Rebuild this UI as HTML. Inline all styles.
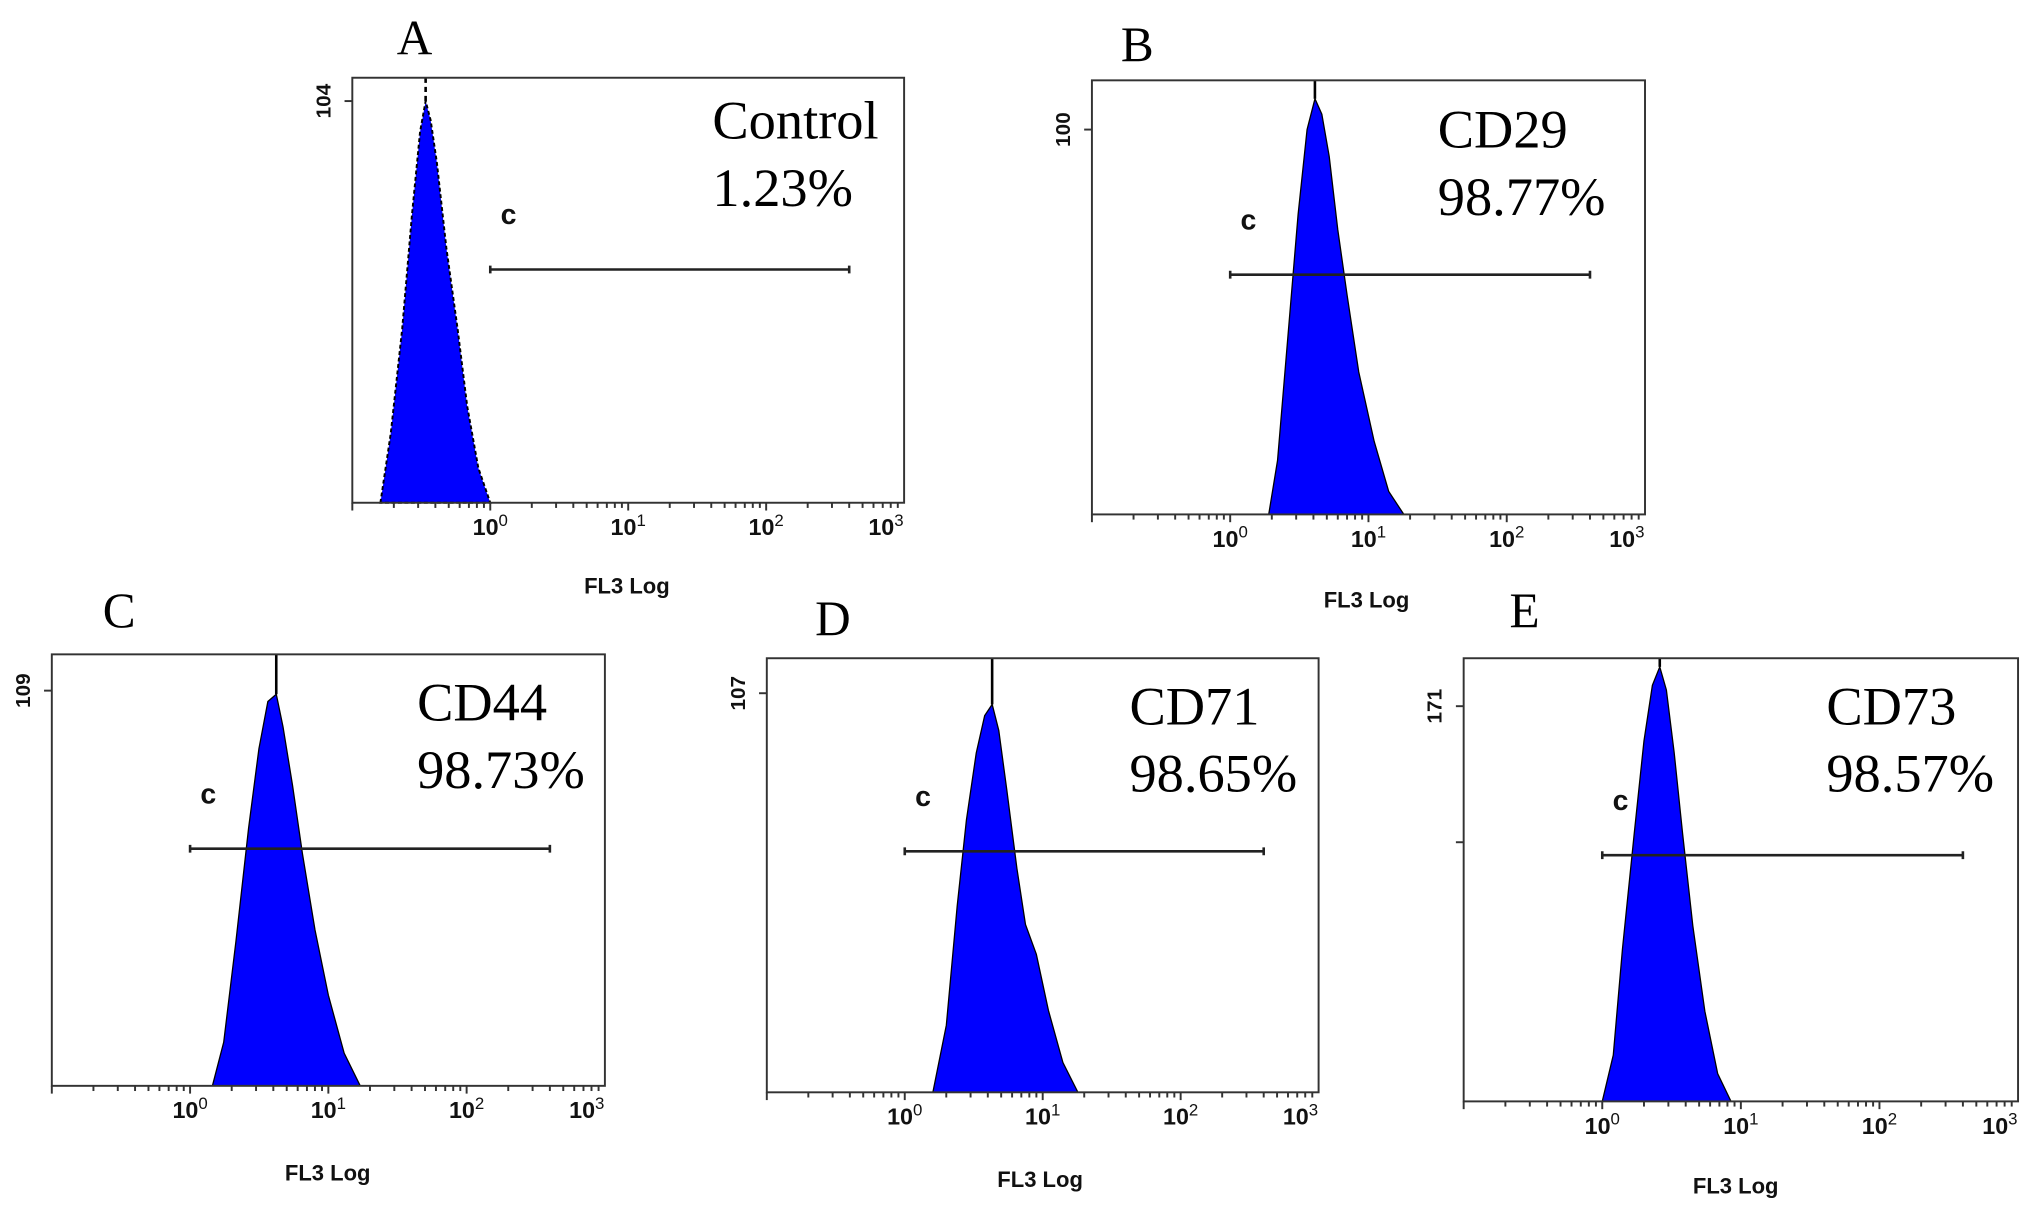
<!DOCTYPE html>
<html><head><meta charset="utf-8">
<style>
html,body{margin:0;padding:0;background:#fff;}
svg{display:block;}
.big{font-family:"Liberation Serif",serif;font-size:38px;fill:#000;}
.lab{font-family:"Liberation Serif",serif;font-size:42px;fill:#000;}
.sans{font-family:"Liberation Sans",sans-serif;font-weight:bold;fill:#111;}
</style></head>
<body>
<svg id="fig" width="2031" height="1218" viewBox="0 0 1568 940" preserveAspectRatio="none" xmlns="http://www.w3.org/2000/svg"></svg>
<script>
// ---- data ----
const panelIds = ['A','B','C','D','E'];
const markers = ['Control','CD29','CD44','CD71','CD73'];
const percents = ['1.23%','98.77%','98.73%','98.65%','98.57%'];
const yTickValues = [104,100,109,107,171];
const xTickLabels = ['10','10','10','10'];
const xTickExps = ['0','1','2','3'];
const xDecades = [0,1,2,3];
// histogram: fluorescence intensity (linear values) and counts
const histA_x = [0.16,0.19,0.23,0.27,0.31,0.34,0.37,0.41,0.48,0.58,0.68,0.82,1.0];
const histA_y = [0,18,45,74,96,104,99,88,66,45,25,9,0];
const histB_x = [1.9,2.2,2.6,3.1,3.6,4.1,4.6,5.2,6.0,7.0,8.5,11,14,18];
const histB_y = [0,14,45,78,100,108,104,93,74,57,37,19,6,0];
const histC_x = [1.45,1.75,2.15,2.65,3.15,3.65,4.2,4.7,5.5,6.5,8,10,13,17];
const histC_y = [0,12,40,71,93,106,108,99,83,64,43,25,9,0];
const histD_x = [1.6,2.0,2.4,2.8,3.3,3.8,4.3,4.8,5.5,6.5,7.5,9,11,14,18];
const histD_y = [0,18,50,73,91,101,104,97,81,60,45,37,22,8,0];
const histE_x = [1.0,1.2,1.4,1.7,2.0,2.3,2.6,2.9,3.3,3.8,4.5,5.5,6.8,8.5];
const histE_y = [0,20,66,116,156,180,188,178,151,116,76,39,12,0];
const gateMin = [1.0,1.0,1.0,1.0,1.0];
const gateMax = [400,400,400,400,400];

// ---- layout (display coordinates) ----
const boxes = [
 {x0:272,x1:698,y0:60,y1:388,ty:78,gy:208,letter:[320,30],txt:[550,93],fl:[484,452]},
 {x0:843,x1:1270,y0:62,y1:397,ty:100,gy:212,letter:[878,35],txt:[1110,100],fl:[1055,463]},
 {x0:40,x1:467,y0:505,y1:838,ty:533,gy:655,letter:[92,472],txt:[322,542],fl:[253,905]},
 {x0:592,x1:1018,y0:508,y1:843,ty:535,gy:657,letter:[643,478],txt:[872,545],fl:[803,910]},
 {x0:1130,x1:1558,y0:508,y1:850,ty:545,gy:660,letter:[1177,472],txt:[1410,545],fl:[1340,915]}
];
const hx = [histA_x,histB_x,histC_x,histD_x,histE_x];
const hy = [histA_y,histB_y,histC_y,histD_y,histE_y];
const NS='http://www.w3.org/2000/svg';
const svg=document.getElementById('fig');
function mk(tag,attrs,parent){const e=document.createElementNS(NS,tag);for(const k in attrs)e.setAttribute(k,attrs[k]);(parent||svg).appendChild(e);return e;}

boxes.forEach((b,i)=>{
  const g=mk('g',{});
  
  
  const xs=v=>b.x0+(Math.log10(v)+1)/4*(b.x1-b.x0);
  const ys=v=>b.y1-v/yTickValues[i]*(b.y1-b.ty);
  let d='M'+xs(hx[i][0])+','+b.y1;
  hx[i].forEach((v,j)=>{d+=' L'+xs(v).toFixed(1)+','+ys(hy[i][j]).toFixed(1);});
  d+=' L'+xs(hx[i][hx[i].length-1])+','+b.y1+' Z';
  const h=mk('path',{d:d,fill:'#0000ff',stroke:'#000','stroke-width':i===0?1.5:1,'stroke-dasharray':i===0?'3,2':'none'},g);
  
  
  let pk=0;hy[i].forEach((v,j)=>{if(v>hy[i][pk])pk=j;});
  const sp=mk('line',{x1:xs(hx[i][pk]),x2:xs(hx[i][pk]),y1:b.y0,y2:ys(hy[i][pk]),stroke:'#000','stroke-width':2,'stroke-dasharray':i===0?'4,3':'none'},g);
  
  
  const r=mk('rect',{x:b.x0,y:b.y0,width:b.x1-b.x0,height:b.y1-b.y0,fill:'none',stroke:'#333','stroke-width':1.5},g);
  
  
  mk('line',{x1:b.x0-6,x2:b.x0,y1:b.ty,y2:b.ty,stroke:'#333','stroke-width':1.5},g);
  if(i===4) mk('line',{x1:b.x0-6,x2:b.x0,y1:650,y2:650,stroke:'#333','stroke-width':1.5},g);
  const yt=mk('text',{x:0,y:0,'font-size':16,class:'sans','text-anchor':'middle',transform:'translate('+(b.x0-17)+','+b.ty+') rotate(-90)'},g);
  yt.textContent=yTickValues[i];
  
  
  for(let dec=-1;dec<3;dec++){for(let m=1;m<10;m++){const v=m*Math.pow(10,dec);const x=xs(v);
    mk('line',{x1:x,x2:x,y1:b.y1,y2:b.y1+(m===1?6:4),stroke:'#333','stroke-width':1.5},g);}}
  xDecades.forEach((dd,k)=>{
    const t=mk('text',{x:xs(Math.pow(10,dd))-(k===3?14:0),y:b.y1+25,'font-size':18,class:'sans','text-anchor':'middle'},g);
    t.textContent=xTickLabels[k];
    const s=mk('tspan',{dy:-7,'font-size':13,'font-weight':'normal'},t);s.textContent=xTickExps[k];
    
    
  });
  const fl=mk('text',{x:b.fl[0],y:b.fl[1]+6,'font-size':17,class:'sans','text-anchor':'middle'},g);
  fl.textContent='FL3 Log';
  
  
  const gx0=xs(gateMin[i]),gx1=xs(gateMax[i]);
  const gl=mk('path',{d:'M'+gx0+','+b.gy+' L'+gx1+','+b.gy+' M'+gx0+','+(b.gy-3)+' L'+gx0+','+(b.gy+3)+' M'+gx1+','+(b.gy-3)+' L'+gx1+','+(b.gy+3),stroke:'#222','stroke-width':2,fill:'none'},g);
  
  
  const c=mk('text',{x:gx0+8,y:b.gy-35,'font-size':22,class:'sans'},g);
  c.textContent='c';
  
  
  const L=mk('text',{x:b.letter[0],y:b.letter[1]+12,class:'big','text-anchor':'middle'},g);
  L.textContent=panelIds[i];
  
  
  const m1=mk('text',{x:b.txt[0],y:b.txt[1]+14,class:'lab'},g);
  m1.textContent=markers[i];
  
  
  const m2=mk('text',{x:b.txt[0],y:b.txt[1]+66,class:'lab'},g);
  m2.textContent=percents[i];
  
  
});
</script>
</body></html>
